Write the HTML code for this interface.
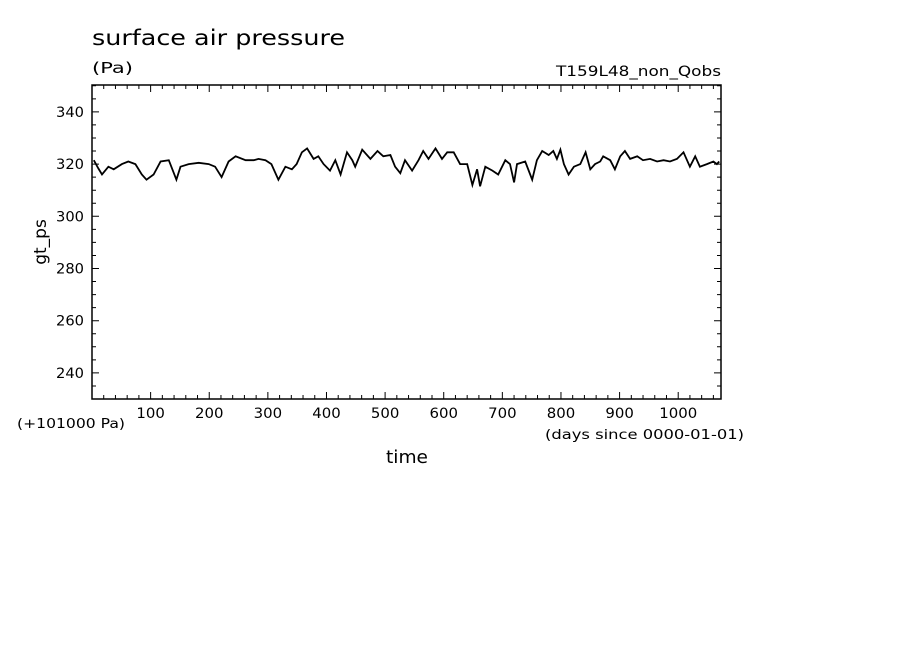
<!DOCTYPE html>
<html><head><meta charset="utf-8"><style>
body{margin:0;background:#fff;}
svg text{font-family:"DejaVu Sans","Liberation Sans",sans-serif;fill:#000;}
</style></head><body>
<svg id="chart" width="904" height="654" viewBox="0 0 904 654" xmlns="http://www.w3.org/2000/svg">
<rect width="904" height="654" fill="#fff"/>
<text x="92" y="45" font-size="21" textLength="253" lengthAdjust="spacingAndGlyphs">surface air pressure</text>
<text x="92" y="73" font-size="15" textLength="41" lengthAdjust="spacingAndGlyphs">(Pa)</text>
<text x="556" y="76" font-size="14" textLength="165" lengthAdjust="spacingAndGlyphs">T159L48_non_Qobs</text>
<text x="0" y="0" font-size="17" text-anchor="middle" transform="translate(46,242) rotate(-90)">gt_ps</text>
<text x="17" y="428" font-size="13" textLength="108" lengthAdjust="spacingAndGlyphs">(+101000 Pa)</text>
<text x="545" y="439" font-size="13" textLength="199" lengthAdjust="spacingAndGlyphs">(days since 0000-01-01)</text>
<text x="386" y="463" font-size="18" textLength="42" lengthAdjust="spacingAndGlyphs">time</text>
<g id="axes"></g>
<g id="plot"></g>
</svg>
<script>
const days=[3,11,17,28,37,51,62,74,85,93,105,117,131,144,151,165,182,199,210,221,233,245,262,276,284,296,306,318,330,341,349,358,367,378,386,395,406,415,424,435,444,449,461,475,487,497,509,517,526,534,546,557,565,574,586,597,606,617,628,640,649,657,662,671,683,693,705,713,720,725,739,751,759,768,779,787,793,799,805,813,822,833,842,850,858,867,872,884,892,901,909,918,930,940,952,964,975,986,998,1009,1020,1029,1037,1049,1060,1066,1070];
const pressure=[321.5,318.3,316,319,318,320,321,320,316,314,316,321,321.5,314,319,320,320.5,320,319,315,321,323,321.5,321.5,322,321.5,320,314,319,318,320,324.5,326,322,323,320,317.5,321.5,316,324.5,321.5,319,325.5,322,325,323,323.5,319,316.5,321.5,317.5,321.5,325,322,326,322,324.5,324.5,320,320,312,318,311.5,319,317.5,316,321.5,320,313,320,321,314,321.5,325,323.5,325,322,325.5,320,316,319,320,324.5,318,320,321,323,321.5,318,323,325,322,323,321.5,322,321,321.5,321,322,324.5,319,323,319,320,321,320,321];
const yTicks=[240,260,280,300,320,340];
const xTicks=[100,200,300,400,500,600,700,800,900,1000];
const L=92,R=721,T=85,B=399,XMIN=0,XMAX=1073,YMIN=230,YMAX=350.3;
const sx=d=>L+(d-XMIN)/(XMAX-XMIN)*(R-L);
const sy=v=>B-(v-YMIN)/(YMAX-YMIN)*(B-T);
const NS="http://www.w3.org/2000/svg";
const axes=document.getElementById('axes'),plot=document.getElementById('plot');
function mk(tag,attrs,parent){const e=document.createElementNS(NS,tag);for(const k in attrs)e.setAttribute(k,attrs[k]);parent.appendChild(e);return e;}
const frame=mk('rect',{x:L,y:T,width:R-L,height:B-T,fill:'none',stroke:'#000','stroke-width':1.5},axes);


let p='';
for(let v=230;v<=350;v+=5){const y=sy(v);const len=(v%20===0)?7:4;p+=`M${L},${y}h${len}M${R},${y}h${-len}`;}
for(let d=20;d<XMAX;d+=20){const x=sx(d);const len=(d%100===0)?7:4;p+=`M${x},${B}v${-len}M${x},${T}v${len}`;}
const ticks=mk('path',{d:p,stroke:'#000','stroke-width':1,fill:'none'},axes);


yTicks.forEach(v=>{const t=mk('text',{x:56,y:sy(v)+5,'font-size':14,textLength:28,lengthAdjust:'spacingAndGlyphs'},axes);t.textContent=v;

});
xTicks.forEach(d=>{const w=String(d).length*9.5;const t=mk('text',{x:sx(d)-w/2,y:418,'font-size':14,textLength:w,lengthAdjust:'spacingAndGlyphs'},axes);t.textContent=d;

});
const pts=days.map((d,i)=>sx(d).toFixed(1)+','+sy(pressure[i]).toFixed(1)).join(' ');
const line=mk('polyline',{points:pts,fill:'none',stroke:'#000','stroke-width':1.8,'stroke-linejoin':'miter'},plot);


</script>
</body></html>
